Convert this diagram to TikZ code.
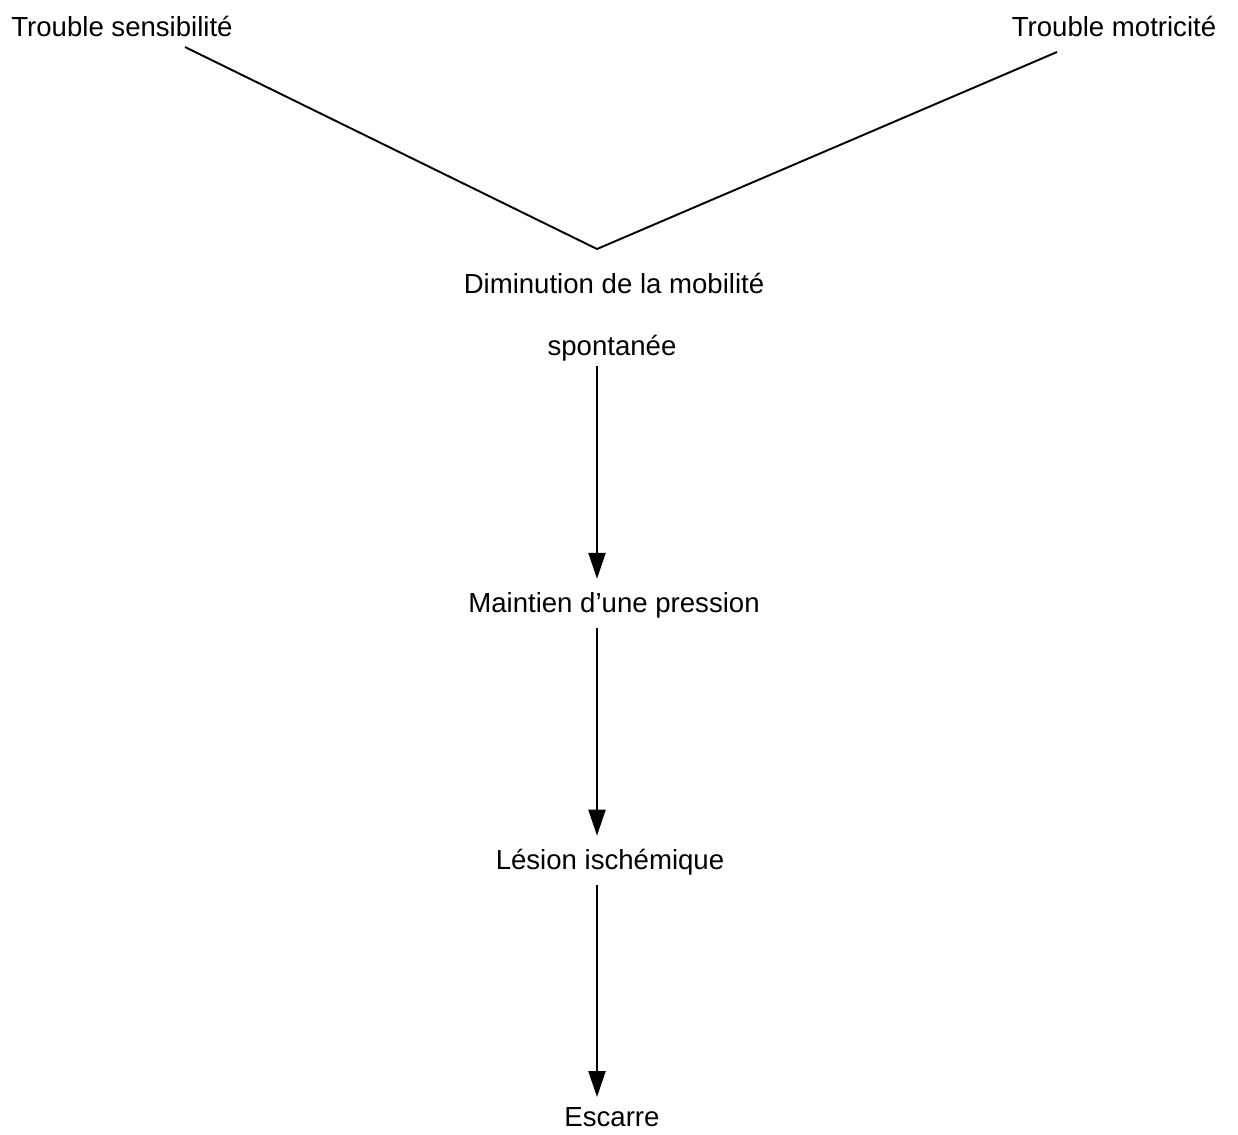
\documentclass[tikz,border=0pt]{standalone}
\usepackage{fontspec}
\setmainfont{Liberation Sans}
\usetikzlibrary{arrows.meta}
\begin{document}
\begin{tikzpicture}[x=0.02cm,y=-0.02cm]
\tikzstyle{every node}+=[inner sep=0pt,font=\fontsize{15.7}{18}\selectfont]
\tikzstyle{link}=[black,line width=1.1pt]
\tikzstyle{flow}=[black,line width=1.3pt,-{Triangle[width=0.34cm,length=0.52cm]}]
\useasboundingbox (0,0) rectangle (1238,1134);
\node (sens) at (122,26) {Trouble sensibilité};
\node (motr) at (1114,26) {Trouble motricité};
\coordinate (sensend) at (185,47);
\coordinate (motrend) at (1057,52);
\coordinate (apex) at (597,249);
\node (dimi) at (614,283) {Diminution de la mobilité};
\node (spont) at (612,348) {spontanée};
\node (maint) at (614,605) {Maintien d'une pression};
\node (lesi) at (610,862) {Lésion ischémique};
\node (esca) at (612,1117) {Escarre};
\draw [link] (sensend) -- (apex) -- (motrend);
\draw [flow] ([yshift=-0.1cm]spont.south -| apex) -- ([yshift=0.26cm]maint.north -| apex);
\draw [flow] ([yshift=-0.2cm]maint.south -| apex) -- ([yshift=0.26cm]lesi.north -| apex);
\draw [flow] ([yshift=-0.2cm]lesi.south -| apex) -- ([yshift=0.2cm]esca.north -| apex);
\end{tikzpicture}
\end{document}
